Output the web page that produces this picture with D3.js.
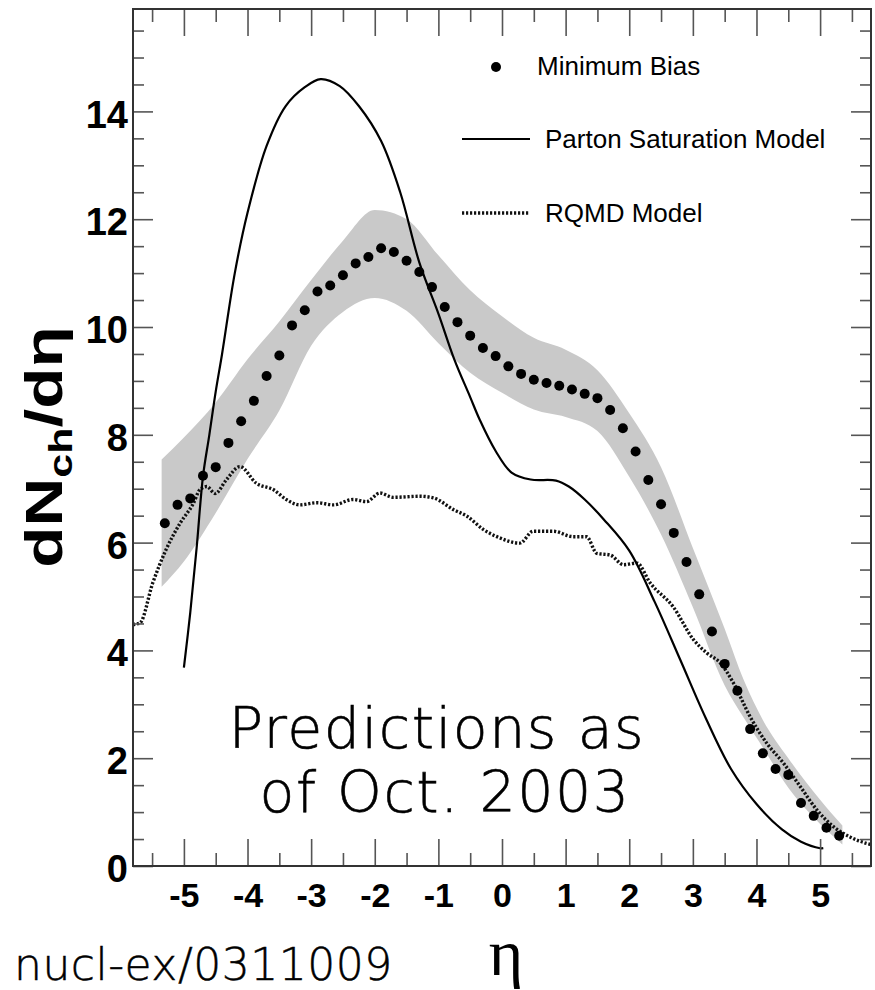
<!DOCTYPE html>
<html>
<head>
<meta charset="utf-8">
<script src="https://cdn.jsdelivr.net/npm/d3@7/dist/d3.min.js"></script>
<style>
body { margin:0; background:#fff; }
</style>
</head>
<body>
<svg id="chart" width="875" height="990"></svg>
<script>

// Minimum Bias points
var mbEta = [-5.3,-5.1,-4.9,-4.7,-4.5,-4.3,-4.1,-3.9,-3.7,-3.5,-3.3,-3.1,-2.9,-2.7,-2.5,-2.3,-2.1,-1.9,
	     -1.7,-1.5,-1.3,-1.1,-0.9,-0.7,-0.5,-0.3,-0.1,0.1,0.3,0.5,0.7,0.9,1.1,1.3,1.5,1.7,1.9,
	     2.1,2.3,2.5,2.7,2.9,3.1,3.3,3.5,3.7,3.9,4.1,4.3,4.5,4.7,4.9,5.1,5.3];
var mbVal = [6.36,6.70,6.82,7.24,7.40,7.85,8.25,8.63,9.09,9.47,10.03,10.31,10.66,10.77,10.96,11.18,11.30,11.46,
	     11.39,11.23,11.02,10.74,10.37,10.09,9.84,9.61,9.46,9.27,9.13,9.02,8.96,8.91,8.84,8.76,8.68,8.46,8.12,
	     7.69,7.16,6.71,6.18,5.64,5.04,4.35,3.75,3.25,2.54,2.09,1.80,1.69,1.17,0.93,0.71,0.56];

// systematic error band
var bandEta  = [-5.35,-5.0,-4.5,-4.0,-3.5,-3.0,-2.5,-2.0,-1.5,-1.0,-0.5,0.0,0.5,1.0,1.5,2.0,2.5,3.0,3.5,3.8,4.1,4.5,5.0,5.35];
var bandHigh = [7.54,7.95,8.60,9.40,10.10,10.87,11.60,12.17,12.00,11.33,10.68,10.20,9.80,9.58,9.20,8.40,7.40,5.90,4.40,3.45,2.71,2.00,1.23,0.75];
var bandLow  = [5.18,5.65,6.55,7.55,8.45,9.65,10.28,10.54,10.30,9.70,9.15,8.78,8.47,8.33,8.07,7.22,6.15,4.80,3.35,2.75,2.20,1.45,0.78,0.40];

// Parton Saturation Model
var psmEta = [-5.0,-4.9,-4.8,-4.7,-4.6,-4.5,-4.4,-4.2,-4.0,-3.7,-3.4,-3.1,-2.85,-2.55,-2.25,-1.9,-1.6,-1.3,-1.0,
	      -0.75,-0.5,-0.35,-0.1,0.15,0.45,0.85,1.05,1.3,1.6,2.0,2.4,2.8,3.2,3.6,4.0,4.4,4.7,5.0,5.05];
var psmVal = [3.68,4.70,5.90,7.23,8.00,8.80,9.50,11.00,12.12,13.36,14.10,14.45,14.60,14.47,14.10,13.45,12.50,11.20,10.25,
	      9.40,8.70,8.28,7.70,7.30,7.17,7.15,7.04,6.80,6.43,5.85,4.90,3.83,2.75,1.80,1.15,0.68,0.45,0.33,0.33];

// RQMD Model
var rqmdEta = [-5.8,-5.69,-5.49,-5.28,-5.06,-4.85,-4.75,-4.64,-4.51,-4.33,-4.12,-3.86,-3.59,-3.39,-3.18,-2.91,-2.65,
	       -2.34,-2.13,-1.92,-1.71,-1.29,-1.08,-0.76,-0.55,-0.29,-0.08,0.28,0.49,0.81,1.12,1.33,1.49,1.70,1.91,
	       2.12,2.33,2.69,3.01,3.22,3.43,3.64,3.90,4.16,4.43,4.69,4.95,5.21,5.47,5.73,5.8];
var rqmdVal = [4.48,4.51,5.25,5.87,6.36,6.73,6.98,7.04,6.91,7.17,7.41,7.10,6.98,6.80,6.70,6.74,6.70,
	       6.80,6.76,6.92,6.84,6.86,6.83,6.61,6.49,6.24,6.11,5.99,6.21,6.21,6.11,6.11,5.80,5.77,5.59,
	       5.62,5.25,4.81,4.20,3.95,3.77,3.39,2.77,2.28,1.90,1.47,1.04,0.73,0.54,0.42,0.40];

var xMajor = [-5,-4,-3,-2,-1,0,1,2,3,4,5];
var xMinor = [-5.5,-4.5,-3.5,-2.5,-1.5,-0.5,0.5,1.5,2.5,3.5,4.5,5.5];
var yMajor = [0,2,4,6,8,10,12,14];
var yMinor = d3.range(0.5,16,0.5).filter(function(v){ return v%2!=0; });

var legendLabels = ["Minimum Bias","Parton Saturation Model","RQMD Model"];

var LEFT=133, RIGHT=871, TOP=9, BOTTOM=866;

var svg = d3.select("#chart");

svg.append("rect")
    .attr("width",875).attr("height",990).attr("fill","#fff");

var x = d3.scaleLinear().domain([-5.8,5.8]).range([LEFT,RIGHT]);
var y = d3.scaleLinear().domain([0,15.9]).range([BOTTOM,TOP]);

svg.append("defs").append("clipPath")
    .attr("id","plotclip")
    .append("rect")
    .attr("x",LEFT).attr("y",TOP)
    .attr("width",RIGHT-LEFT).attr("height",BOTTOM-TOP);

var plot = svg.append("g").attr("clip-path","url(#plotclip)");

// band
var band = d3.area()
    .x(function(d){ return x(d[0]); })
    .y0(function(d){ return y(d[2]); })
    .y1(function(d){ return y(d[1]); })
    .curve(d3.curveMonotoneX);

plot.append("path")
    .datum(bandEta.map(function(e,i){ return [e,bandHigh[i],bandLow[i]]; }))
    .attr("d",band)
    .attr("fill","#c9c9c9");

var line = d3.line()
    .x(function(d){ return x(d[0]); })
    .y(function(d){ return y(d[1]); })
    .curve(d3.curveMonotoneX);

var smooth = d3.line()
    .x(function(d){ return x(d[0]); })
    .y(function(d){ return y(d[1]); })
    .curve(d3.curveCatmullRom.alpha(0.5));

plot.append("path")
    .datum(rqmdEta.map(function(e,i){ return [e,rqmdVal[i]]; }))
    .attr("d",line)
    .attr("fill","none")
    .attr("stroke","#111")
    .attr("stroke-width",3.4)
    .attr("stroke-dasharray","2.2,1.8");

plot.append("path")
    .datum(psmEta.map(function(e,i){ return [e,psmVal[i]]; }))
    .attr("d",smooth)
    .attr("fill","none")
    .attr("stroke","#000")
    .attr("stroke-width",2.2);

plot.selectAll("circle.mb")
    .data(mbEta.map(function(e,i){ return [e,mbVal[i]]; }))
    .enter().append("circle")
    .attr("class","mb")
    .attr("cx",function(d){ return x(d[0]); })
    .attr("cy",function(d){ return y(d[1]); })
    .attr("r",5)
    .attr("fill","#000");

// axes, ticks inward on all four sides
function styleAxis(g) {
    g.select(".domain").remove();
    g.selectAll(".tick line").attr("stroke","#555").attr("stroke-width",1.6);
    g.selectAll(".tick text")
	.attr("fill","#000")
	.style("font-family","'Liberation Sans', Arial, sans-serif")
	.style("font-weight","bold");
}

// plain hyphen for the minus, as in the original
var plainFmt = function(d){ return String(d); };

svg.append("g")
    .attr("transform","translate(0,"+BOTTOM+")")
    .call(d3.axisBottom(x).tickValues(xMajor).tickSize(-27).tickPadding(17).tickFormat(plainFmt))
    .call(styleAxis)
    .selectAll(".tick text").style("font-size","34px");

svg.append("g")
    .attr("transform","translate(0,"+BOTTOM+")")
    .call(d3.axisBottom(x).tickValues(xMinor).tickSize(-13).tickFormat(""))
    .call(styleAxis);

svg.append("g")
    .attr("transform","translate(0,"+TOP+")")
    .call(d3.axisTop(x).tickValues(xMajor).tickSize(-27).tickFormat(""))
    .call(styleAxis);

svg.append("g")
    .attr("transform","translate(0,"+TOP+")")
    .call(d3.axisTop(x).tickValues(xMinor).tickSize(-13).tickFormat(""))
    .call(styleAxis);

svg.append("g")
    .attr("transform","translate("+LEFT+",0)")
    .call(d3.axisLeft(y).tickValues(yMajor).tickSize(-20).tickPadding(5).tickFormat(plainFmt))
    .call(styleAxis)
    .selectAll(".tick text").style("font-size","38px").attr("dy","0.41em");

svg.append("g")
    .attr("transform","translate("+LEFT+",0)")
    .call(d3.axisLeft(y).tickValues(yMinor).tickSize(-11).tickFormat(""))
    .call(styleAxis);

svg.append("g")
    .attr("transform","translate("+RIGHT+",0)")
    .call(d3.axisRight(y).tickValues(yMajor).tickSize(-20).tickFormat(""))
    .call(styleAxis);

svg.append("g")
    .attr("transform","translate("+RIGHT+",0)")
    .call(d3.axisRight(y).tickValues(yMinor).tickSize(-11).tickFormat(""))
    .call(styleAxis);

// frame
svg.append("rect")
    .attr("x",LEFT).attr("y",TOP)
    .attr("width",RIGHT-LEFT).attr("height",BOTTOM-TOP)
    .attr("fill","none")
    .attr("stroke","#333")
    .attr("stroke-width",2);

// legend
var leg = svg.append("g")
    .style("font-family","'Liberation Sans', Arial, sans-serif")
    .style("font-size","26px");

leg.append("circle").attr("cx",496).attr("cy",67).attr("r",5).attr("fill","#000");
leg.append("text").attr("x",537).attr("y",75).text(legendLabels[0]);

leg.append("line").attr("x1",462).attr("x2",530).attr("y1",139).attr("y2",139)
    .attr("stroke","#000").attr("stroke-width",2.2);
leg.append("text").attr("x",545).attr("y",148).text(legendLabels[1]);

leg.append("line").attr("x1",462).attr("x2",530).attr("y1",213).attr("y2",213)
    .attr("stroke","#111").attr("stroke-width",3.4).attr("stroke-dasharray","2.2,1.8");
leg.append("text").attr("x",545).attr("y",222).text(legendLabels[2]);

// annotation
var note = svg.append("g")
    .style("font-family","'DejaVu Sans', sans-serif")
    .style("font-weight","200")
    .style("font-size","57px")
    .style("letter-spacing","1.5px")
    .attr("stroke","#000")
    .attr("stroke-width",0.6)
    .attr("text-anchor","middle");
note.append("text").attr("x",437).attr("y",748).text("Predictions as");
note.append("text").attr("x",445).attr("y",812).text("of Oct. 2003");

svg.append("text")
    .attr("x",14).attr("y",980)
    .style("font-family","'DejaVu Sans', sans-serif")
    .style("font-weight","200")
    .style("font-size","44px")
    .style("letter-spacing","0.5px")
    .attr("stroke","#000")
    .attr("stroke-width",0.5)
    .text("nucl-ex/0311009");

// axis titles
svg.append("text")
    .attr("x",506).attr("y",975)
    .attr("text-anchor","middle")
    .style("font-family","'Liberation Serif', 'Times New Roman', serif")
    .style("font-size","66px")
    .text("\u03b7");

// y title is drawn stretched along its length, as in the original
var yt = svg.append("text")
    .attr("transform","translate(62,447) rotate(-90) scale(1.3,1)")
    .attr("text-anchor","middle")
    .style("font-family","'Liberation Sans', Arial, sans-serif")
    .style("font-weight","bold")
    .style("font-size","52px");
yt.append("tspan").text("dN");
yt.append("tspan").attr("dy",10).style("font-size","33px").text("ch");
yt.append("tspan").attr("dy",-10).text("/d\u03b7");

</script>
</body>
</html>
